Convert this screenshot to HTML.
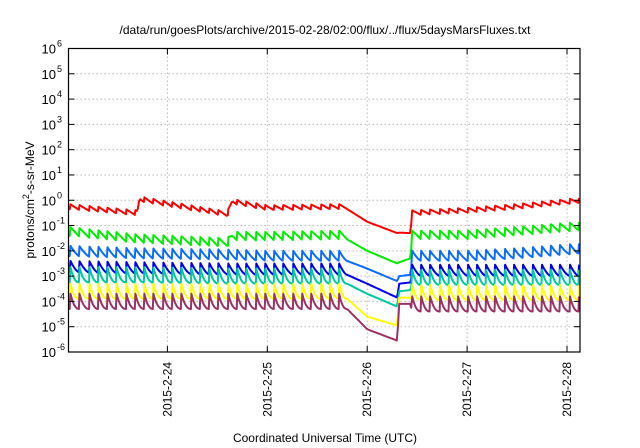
<!DOCTYPE html>
<html><head><meta charset="utf-8"><style>
body{margin:0;background:#fff;}
svg{display:block;font-family:"Liberation Sans",sans-serif;}
</style></head><body>
<svg id="chart" width="640" height="448" viewBox="0 0 640 448" xmlns="http://www.w3.org/2000/svg">
<rect width="640" height="448" fill="#fff"/>
<text x="325" y="34" font-size="12" text-anchor="middle">/data/run/goesPlots/archive/2015-02-28/02:00/flux/../flux/5daysMarsFluxes.txt</text>
<text x="325" y="442" font-size="12" text-anchor="middle">Coordinated Universal Time (UTC)</text>
<text transform="translate(34,200) rotate(-90)" font-size="12" text-anchor="middle">protons/cm<tspan dy="-5" font-size="9">2</tspan><tspan dy="5">-s-sr-MeV</tspan></text>
<g id="grid"></g><g id="series"></g><g id="axes"></g>
</svg>
<script>
const xTicks=[24,25,26,27,28];
const xTickLabels=["2015-2-24","2015-2-25","2015-2-26","2015-2-27","2015-2-28"];
const yTicks=[-6,-5,-4,-3,-2,-1,0,1,2,3,4,5,6];
const knotT=[23.0,23.7,23.72,24.6,24.65,25.0,25.8,26.0,26.3,26.32,26.43,26.45,27.0,27.5,28.15];
const spikeT=[23.03,23.12,23.22,23.31,23.40,23.49,23.59,23.68,23.77,23.86,23.96,24.05,24.14,24.24,24.33,24.42,24.51,24.61,24.70,24.79,24.89,24.98,25.07,25.16,25.26,25.35,25.44,25.54,25.63,25.72,26.45,26.54,26.63,26.73,26.82,26.91,27.01,27.10,27.19,27.28,27.38,27.47,27.56,27.66,27.75,27.84,27.93,28.03,28.12];
const gapStart=25.8, gapEnd=26.45;
const redBase=[-0.35,-0.6,-0.05,-0.65,-0.15,-0.4,-0.35,-0.85,-1.3,-1.28,-1.3,-0.6,-0.5,-0.35,-0.1];
const greenBase=[-1.4,-1.7,-1.7,-1.85,-1.6,-1.6,-1.55,-2.0,-2.5,-2.45,-2.3,-1.55,-1.55,-1.4,-1.2];
const azureBase=[-2.2,-2.3,-2.3,-2.35,-2.35,-2.4,-2.4,-2.7,-3.2,-3.0,-2.95,-2.4,-2.4,-2.3,-2.1];
const blueBase=[-2.85,-2.9,-2.9,-2.95,-2.95,-2.95,-2.95,-3.3,-3.85,-3.3,-3.25,-3.0,-3.0,-3.0,-3.0];
const tealBase=[-3.25,-3.25,-3.25,-3.3,-3.3,-3.3,-3.3,-3.7,-4.2,-3.6,-3.55,-3.35,-3.35,-3.35,-3.35];
const yellowBase=[-3.9,-3.9,-3.9,-3.9,-3.9,-3.9,-3.9,-4.6,-4.95,-3.85,-3.85,-3.95,-3.95,-3.95,-3.95];
const purpleBase=[-4.3,-4.3,-4.3,-4.3,-4.3,-4.3,-4.3,-5.1,-5.55,-4.1,-4.1,-4.4,-4.4,-4.4,-4.4];
const spikeAmp=[0.2,0.35,0.4,0.45,0.6,0.6,0.6];
const decayShape=[1,1,1.4,1.6,2.5,2.5,2.5];
const seriesBases=[redBase,greenBase,azureBase,blueBase,tealBase,yellowBase,purpleBase];
const seriesNames=["red","green","azure","blue","teal","yellow","purple"];
const seriesColors=["#ff0000","#00ee00","#0a6cff","#0000ee","#00c8a0","#ffff00","#993366"];

const X0=68.5,X1=580,Y0=48.5,Y1=352,T0=23.01,T1=28.13;
const xs=t=>X0+(t-T0)/(T1-T0)*(X1-X0);
const ys=v=>Y1-(v+6)/12*(Y1-Y0);
const NS="http://www.w3.org/2000/svg";
function mk(tag,attrs,parent){const e=document.createElementNS(NS,tag);for(const k in attrs)e.setAttribute(k,attrs[k]);parent.appendChild(e);return e;}
const grid=document.getElementById('grid'),axes=document.getElementById('axes'),ser=document.getElementById('series');

yTicks.forEach(v=>{
  const y=ys(v);
  if(v>-6&&v<6){const g=mk('line',{x1:X0,x2:X1,y1:y,y2:y,stroke:'#bbb','stroke-dasharray':'1.5,2.5','stroke-width':1},grid);
  }
  mk('line',{x1:X0,x2:X0+6,y1:y,y2:y,stroke:'#000'},axes);
  mk('line',{x1:X1,x2:X1-6,y1:y,y2:y,stroke:'#000'},axes);
  const t=mk('text',{x:56,y:y+5,'font-size':13,'text-anchor':'end'},axes);
  
  t.textContent='10';
  const s=mk('tspan',{x:57,dy:-7,'font-size':9,'text-anchor':'start'},t);s.textContent=String(v);
});
xTicks.forEach((d,i)=>{
  const x=xs(d);
  const g=mk('line',{x1:x,x2:x,y1:Y0,y2:Y1,stroke:'#bbb','stroke-dasharray':'1.5,2.5'},grid);
  
  mk('line',{x1:x,x2:x,y1:Y1,y2:Y1-6,stroke:'#000'},axes);
  mk('line',{x1:x,x2:x,y1:Y0,y2:Y0+6,stroke:'#000'},axes);
  const t=mk('text',{transform:`translate(${x+4},362) rotate(-90)`,'font-size':12,'text-anchor':'end'},axes);
  
  t.textContent=xTickLabels[i];
});
const box=mk('rect',{x:X0,y:Y0,width:X1-X0,height:Y1-Y0,fill:'none',stroke:'#000','stroke-width':1.2},axes);


function base(arr,t){
  if(t<=knotT[0])return arr[0];
  for(let i=1;i<knotT.length;i++){if(t<=knotT[i]){const f=(t-knotT[i-1])/(knotT[i]-knotT[i-1]);return arr[i-1]+f*(arr[i]-arr[i-1]);}}
  return arr[arr.length-1];
}
seriesBases.forEach((arr,si)=>{
  const amp=spikeAmp[si],p=decayShape[si];const pts=[];
  const bounds=[T0].concat(spikeT).concat([T1]);
  for(let k=0;k<bounds.length-1;k++){
    const a=bounds[k],b=bounds[k+1];
    const isSpike=k>0;
    const e=(a<gapStart&&b>gapStart)?gapStart:b;
    for(let t=a;t<=b+1e-6;t+=0.012){
      let v=base(arr,t);
      if(isSpike&&t<=e){
        const f=Math.min(1,(t-a)/(e-a));
        v+=amp*Math.pow(1-f,p);
      }
      pts.push([xs(Math.min(t,T1)),ys(v)]);
    }
  }
  const d=pts.map((q,i)=>(i?'L':'M')+q[0].toFixed(1)+' '+q[1].toFixed(1)).join('');
  const path=mk('path',{d:d,fill:'none',stroke:seriesColors[si],'stroke-width':2,'stroke-linejoin':'round'},ser);
  
  
});
</script>
</body></html>
